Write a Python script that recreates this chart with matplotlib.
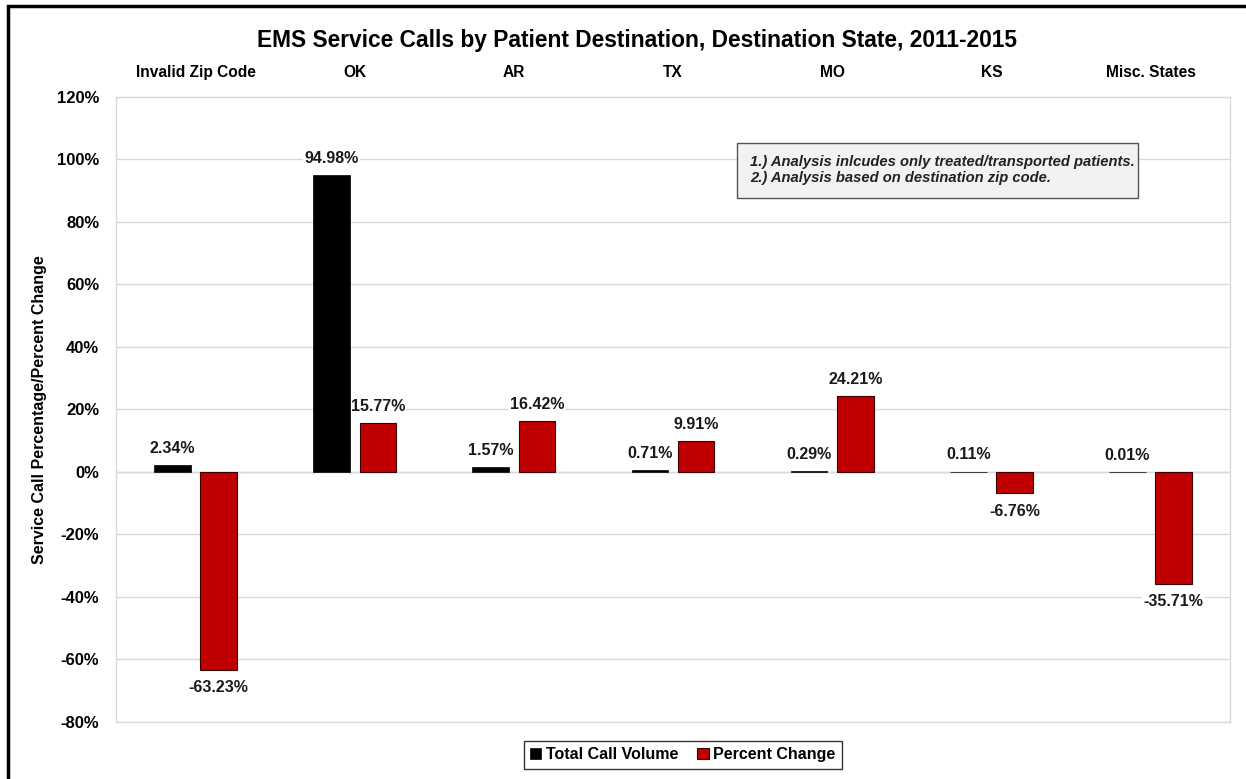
import matplotlib.pyplot as plt
import numpy as np
from matplotlib.patches import Rectangle

plt.rcParams['font.family'] = ['Liberation Sans', 'DejaVu Sans']
plt.rcParams['font.weight'] = 'bold'

categories = ["Invalid Zip Code", "OK", "AR", "TX", "MO", "KS", "Misc. States"]
total_volume = [2.34, 94.98, 1.57, 0.71, 0.29, 0.11, 0.01]
pct_change = [-63.23, 15.77, 16.42, 9.91, 24.21, -6.76, -35.71]
yticks = [-80, -60, -40, -20, 0, 20, 40, 60, 80, 100, 120]

fig = plt.figure(figsize=(12.46, 7.79), dpi=100)
ax = fig.add_axes([0.0931, 0.0732, 0.8941, 0.8023])

x = np.arange(len(categories))
w = 0.23
off = 0.145
b1 = ax.bar(x - off, total_volume, w, color="black", edgecolor="black", linewidth=0.5,
            label="Total Call Volume", zorder=3)
b2 = ax.bar(x + off, pct_change, w, color="#C00000", edgecolor="#3a0000", linewidth=0.8,
            label="Percent Change", zorder=3)

def label_bars(bars, vals):
    for b, v in zip(bars, vals):
        cx = b.get_x() + b.get_width() / 2
        dy = 12 if v >= 0 else -13
        ax.annotate(f"{v:.2f}%", (cx, v), xytext=(0, dy), textcoords="offset points",
                    ha="center", va="center", fontsize=11.5, fontweight="bold",
                    color="#1a1a1a", zorder=2,
                    bbox=dict(boxstyle="square,pad=0.08", fc="white", ec="none"))

label_bars(b1, total_volume)
label_bars(b2, pct_change)

ax.set_xlim(-0.5, len(categories) - 0.5)
ax.set_ylim(-80, 120)
ax.set_yticks(yticks)
ax.set_yticklabels([f"{t}%" for t in yticks], fontsize=12, fontweight="bold")
ax.tick_params(axis="y", length=0, pad=12)
ax.set_xticks(x)
ax.set_xticklabels(categories, fontsize=11.2, fontweight="bold")
ax.xaxis.tick_top()
ax.tick_params(axis="x", length=0, pad=12)
ax.grid(axis="y", color="#d9d9d9", linewidth=1, zorder=0)
ax.axhline(0, color="#d0d0d0", linewidth=1, zorder=1)
for s in ax.spines.values():
    s.set_color("#d9d9d9")
    s.set_linewidth(1)

ax.set_ylabel("Service Call Percentage/Percent Change", fontsize=11.5, fontweight="bold",
              labelpad=7)

fig.text(0.511, 0.948, "EMS Service Calls by Patient Destination, Destination State, 2011-2015",
         ha="center", va="center", fontsize=16.4, fontweight="bold")

# notes box
ax.add_patch(Rectangle((737 / 1246, 1 - 198 / 779), 401 / 1246, 55 / 779,
                       transform=fig.transFigure, facecolor="#f2f2f2", edgecolor="#555555",
                       linewidth=1, zorder=5, clip_on=False))
ax.text(750 / 1246, 1 - 170 / 779,
        "1.) Analysis inlcudes only treated/transported patients.\n"
        "2.) Analysis based on destination zip code.",
        transform=fig.transFigure, ha="left", va="center", fontsize=10.6,
        fontweight="bold", style="italic", color="#222222", linespacing=1.25, zorder=6)

leg = fig.legend(handles=[b1, b2], loc="center", bbox_to_anchor=(0.548, 0.031), ncol=2,
                 fontsize=11.5, frameon=True, fancybox=False, edgecolor="black",
                 handlelength=0.7, handleheight=0.7, handletextpad=0.3, columnspacing=1.2,
                 borderpad=0.4)
leg.get_frame().set_linewidth(1)

fig.patches.append(Rectangle((8 / 1246, -0.1), 1.2, (779 - 6) / 779 + 0.1,
                             transform=fig.transFigure, fill=False, edgecolor="black",
                             linewidth=2.5))

fig.savefig("out.png", dpi=100)
